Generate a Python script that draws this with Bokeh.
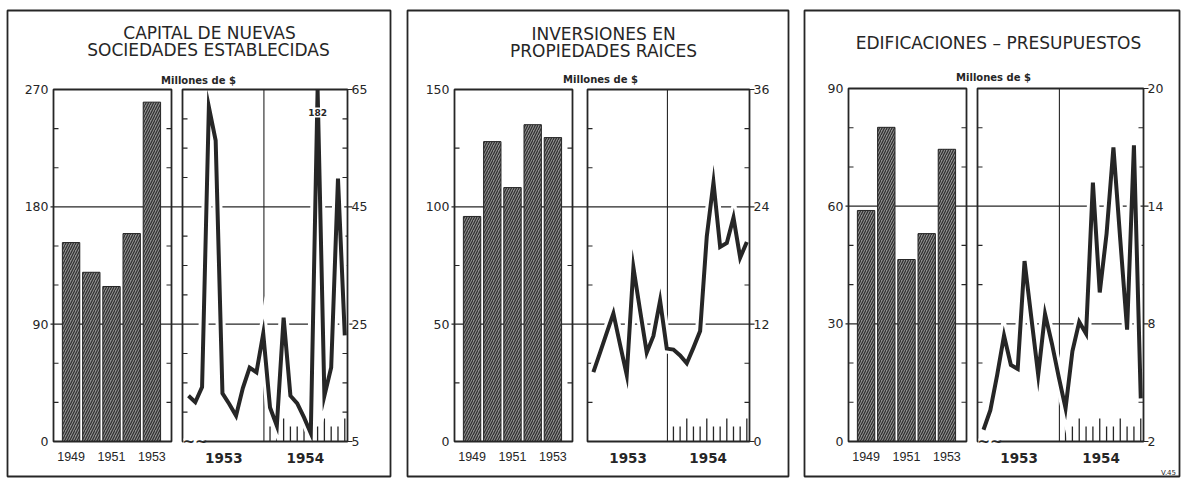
import numpy as np
from bokeh.plotting import figure
from bokeh.models import Range1d
from bokeh.layouts import row
from bokeh.embed import file_html
from bokeh.resources import INLINE
from bokeh.core.properties import value

# ---------------- data ----------------
years = ["1949", "1950", "1951", "1952", "1953"]
year_ticks = [0, 2, 4]
months = list(range(24))                 # Jan 1953 ... Dec 1954
period_labels = ["1953", "1954"]
period_pos = [5.2, 17.2]
month_ticks_1954 = list(range(12, 24))
units_label = "Millones de $"

capital_titles = ["CAPITAL DE NUEVAS", "SOCIEDADES ESTABLECIDAS"]
capital_annual = [152.6, 129.8, 118.9, 159.5, 260.3]
capital_monthly = [12.8, 11.7, 14.3, 62.0, 56.3, 13.2, 11.4, 9.4, 14.1, 17.6, 16.8, 23.4,
                   10.8, 7.7, 26.1, 12.8, 11.5, 9.1, 6.4, 182.0, 12.8, 17.6, 49.8, 23.1]
capital_left_ticks = [0, 90, 180, 270]
capital_left_minor = [30, 60, 120, 150, 210, 240]
capital_right_ticks = [5, 25, 45, 65]
capital_right_minor = [10, 15, 20, 30, 35, 40, 50, 55, 60]

realty_titles = ["INVERSIONES EN", "PROPIEDADES RAICES"]
realty_annual = [95.9, 127.8, 108.2, 135.0, 129.5]
realty_monthly = [7.1, 9.1, 11.1, 13.1, 9.9, 6.8, 17.8, 13.4, 9.1, 10.8, 14.4, 9.5,
                  9.4, 8.8, 8.0, 9.6, 11.3, 21.0, 26.5, 19.9, 20.3, 22.9, 18.8, 20.4]
realty_left_ticks = [0, 50, 100, 150]
realty_left_minor = [25, 75, 125]
realty_right_ticks = [0, 12, 24, 36]
realty_right_minor = [4, 8, 16, 20, 28, 32]

building_titles = ["EDIFICACIONES \u2013 PRESUPUESTOS"]
building_annual = [58.9, 80.1, 46.4, 53.0, 74.5]
building_monthly = [2.6, 3.6, 5.4, 7.4, 5.9, 5.7, 11.2, 8.3, 5.4, 8.5, 7.0, 5.3,
                    3.7, 6.6, 8.1, 7.5, 15.2, 9.6, 12.6, 17.0, 12.3, 7.7, 17.1, 4.2]
building_left_ticks = [0, 30, 60, 90]
building_left_minor = [10, 20, 40, 50, 70, 80]
building_right_ticks = [2, 8, 14, 20]
building_right_minor = [4, 6, 10, 12, 16, 18]

footnote = "V.45"

# ---------------- style / layout ----------------
INK = "#262626"
FONT = "DejaVu Sans"
PAGE = 0
FIG_H = 480
FRAME_Y = (10, 476)
BAR_DOM = (-0.87, 4.97)
LINE_DOM = (-0.88, 23.4)
DIVIDER = 11.1


def lin(d0, d1, p0, p1):
    s = (d1 - d0) / (p1 - p0)
    return lambda px: d0 + (px - p0) * s


def make_panel(spec):
    fx0, fx1 = spec["fig"]
    ox0, ox1 = spec["outer"]
    bx0, bx1 = spec["bar_box"]
    lx0, lx1 = spec["line_box"]
    yt, yb = spec["ybox"]
    fy0, fy1 = FRAME_Y
    lt, lmin, rt, rmin = spec["lt"], spec["lmin"], spec["rt"], spec["rmin"]
    X = lin(BAR_DOM[0], BAR_DOM[1], bx0, bx1)
    M = lin(LINE_DOM[0], LINE_DOM[1], lx0, lx1)
    Y = lin(lt[0], lt[-1], yb, yt)
    R = lin(rt[0], rt[-1], yb, yt)

    p = figure(width=fx1 - fx0, height=FIG_H,
               x_range=Range1d(X(ox0), X(ox1)), y_range=Range1d(Y(fy1), Y(fy0)),
               x_axis_type=None, y_axis_type=None,
               output_backend="svg", toolbar_location=None,
               min_border=0, min_border_left=ox0 - fx0, min_border_right=fx1 - ox1,
               min_border_top=fy0 - PAGE, min_border_bottom=PAGE + FIG_H - fy1,
               background_fill_color="white", border_fill_color="white",
               outline_line_color=INK, outline_line_width=1.8)
    p.title.visible = False
    p.extra_x_ranges = {"m": Range1d(M(ox0), M(ox1))}
    p.extra_y_ranges = {"r": Range1d(R(fy1), R(fy0))}
    LR = dict(x_range_name="m", y_range_name="r")
    thin = dict(line_color=INK, line_width=1.1)

    # horizontal rules at major levels
    inner = lt[1:-1]
    p.segment(x0=[X(bx0 - 3)] * len(inner), x1=[X(lx1 + 5)] * len(inner),
              y0=inner, y1=inner, **thin)
    ends = [lt[0], lt[-1]]
    p.segment(x0=[X(lx1)] * 2, x1=[X(lx1 + 5)] * 2, y0=ends, y1=ends, **thin)

    # minor ticks inside the boxes
    n = len(lmin)
    p.segment(x0=[X(bx0)] * n, x1=[X(bx0 + 5)] * n, y0=lmin, y1=lmin, **thin)
    p.segment(x0=[X(bx1 - 5)] * n, x1=[X(bx1)] * n, y0=lmin, y1=lmin, **thin)
    k = len(rmin)
    p.segment(x0=[M(lx0)] * k, x1=[M(lx0 + 5)] * k, y0=rmin, y1=rmin, **thin, **LR)
    p.segment(x0=[M(lx1 - 5)] * k, x1=[M(lx1)] * k, y0=rmin, y1=rmin, **thin, **LR)

    # year divider and month ticks for 1954
    p.segment(x0=[DIVIDER], x1=[DIVIDER], y0=[rt[0]], y1=[rt[-1]], **thin, **LR)
    tops = [R(yb - (23 if m % 3 == 2 else 15)) for m in month_ticks_1954]
    p.segment(x0=month_ticks_1954, x1=month_ticks_1954,
              y0=[rt[0]] * len(month_ticks_1954), y1=tops,
              line_color=INK, line_width=1.3, **LR)

    # annual bars
    p.vbar(x=list(range(len(years))), top=spec["annual"], bottom=0, width=0.86,
           fill_color="#8e8e8e", line_color=INK, line_width=1.0,
           hatch_pattern="/", hatch_color="#2e2e2e", hatch_scale=5, hatch_weight=1.2)

    # monthly line (clipped at the scale top) with white halo
    ys = [min(v, rt[-1]) for v in spec["monthly"]]
    p.line(months, ys, line_color="white", line_width=10, line_join="miter", **LR)
    p.quad(left=[BAR_DOM[0]], right=[BAR_DOM[1]], bottom=[lt[0]], top=[lt[-1]],
           fill_color=None, line_color=INK, line_width=1.8)
    p.quad(left=[LINE_DOM[0]], right=[LINE_DOM[1]], bottom=[rt[0]], top=[rt[-1]],
           fill_color=None, line_color=INK, line_width=1.8, **LR)
    p.line(months, ys, line_color=INK, line_width=4, line_join="miter", **LR)

    # texts
    base = dict(text_font=value(FONT), text_color=INK, text_baseline="middle")
    p.text(x=[X(bx0 - 5)] * len(lt), y=lt, text=[str(v) for v in lt],
           text_align="right", text_font_size="12.5px", **base)
    p.text(x=[M(lx1 + 4)] * len(rt), y=rt, text=[str(v) for v in rt],
           text_align="left", text_font_size="12.5px", **base, **LR)
    p.text(x=year_ticks, y=[Y(456)] * len(year_ticks), text=[years[i] for i in year_ticks],
           text_align="center", text_font_size="12.5px",
           text_font=value("Liberation Sans"), text_color=INK, text_baseline="middle")
    p.text(x=period_pos, y=[R(457)] * 2, text=period_labels, text_align="center",
           text_font_size="13.5px", text_font_style="bold", **base, **LR)
    for t, (cx, cy) in zip(spec["titles"], spec["title_pos"]):
        p.text(x=[X(cx)], y=[Y(cy)], text=[t], text_align="center",
               text_font_size="17px", **base)
    mcx, mcy = spec["units_pos"]
    p.text(x=[X(mcx)], y=[Y(mcy)], text=[units_label], text_align="center",
           text_font_size="10px", text_font_style="bold", **base)

    # off-scale value label (knocked out of the line)
    for m, v in zip(months, spec["monthly"]):
        if v > rt[-1]:
            p.rect(x=[m], y=[R(112)], width=15, height=10, width_units="screen",
                   height_units="screen", fill_color="white", line_color=None, **LR)
            p.text(x=[m], y=[R(112)], text=[f"{v:.0f}"], text_align="center",
                   text_font_size="9px", text_font_style="bold", **base, **LR)
    # scale break mark on the bottom edge
    if rt[0] != 0:
        p.rect(x=[M(lx0 + 11)], y=[rt[0]], width=20, height=6, width_units="screen",
               height_units="screen", fill_color="white", line_color=None, **LR)
        p.text(x=[M(lx0)], y=[rt[0]], text=["~~"], text_align="left",
               text_font_size="15px", text_font_style="bold", **base, **LR)
    if spec.get("foot"):
        p.text(x=[X(1168)], y=[Y(472)], text=[footnote], text_align="center",
               text_font_size="7px", **base)
    return p


specs = [
    dict(fig=(0, 398), outer=(7, 390), bar_box=(53, 171), line_box=(182, 347), ybox=(89, 441),
         lt=capital_left_ticks, lmin=capital_left_minor, rt=capital_right_ticks,
         rmin=capital_right_minor, annual=capital_annual, monthly=capital_monthly,
         titles=capital_titles, title_pos=[(209, 32), (208, 49)], units_pos=(198, 80)),
    dict(fig=(398, 796), outer=(407, 788), bar_box=(454, 572), line_box=(587, 749), ybox=(89, 441),
         lt=realty_left_ticks, lmin=realty_left_minor, rt=realty_right_ticks,
         rmin=realty_right_minor, annual=realty_annual, monthly=realty_monthly,
         titles=realty_titles, title_pos=[(603, 33), (603, 50)], units_pos=(600, 79)),
    dict(fig=(796, 1182), outer=(804, 1179), bar_box=(848, 966), line_box=(977, 1143), ybox=(88, 441),
         lt=building_left_ticks, lmin=building_left_minor, rt=building_right_ticks,
         rmin=building_right_minor, annual=building_annual, monthly=building_monthly,
         titles=building_titles, title_pos=[(998, 42)], units_pos=(993, 77), foot=True),
]

panels = [make_panel(s) for s in specs]
layout = row(*panels, spacing=0)
open("out.html", "w").write(file_html(layout, INLINE))
